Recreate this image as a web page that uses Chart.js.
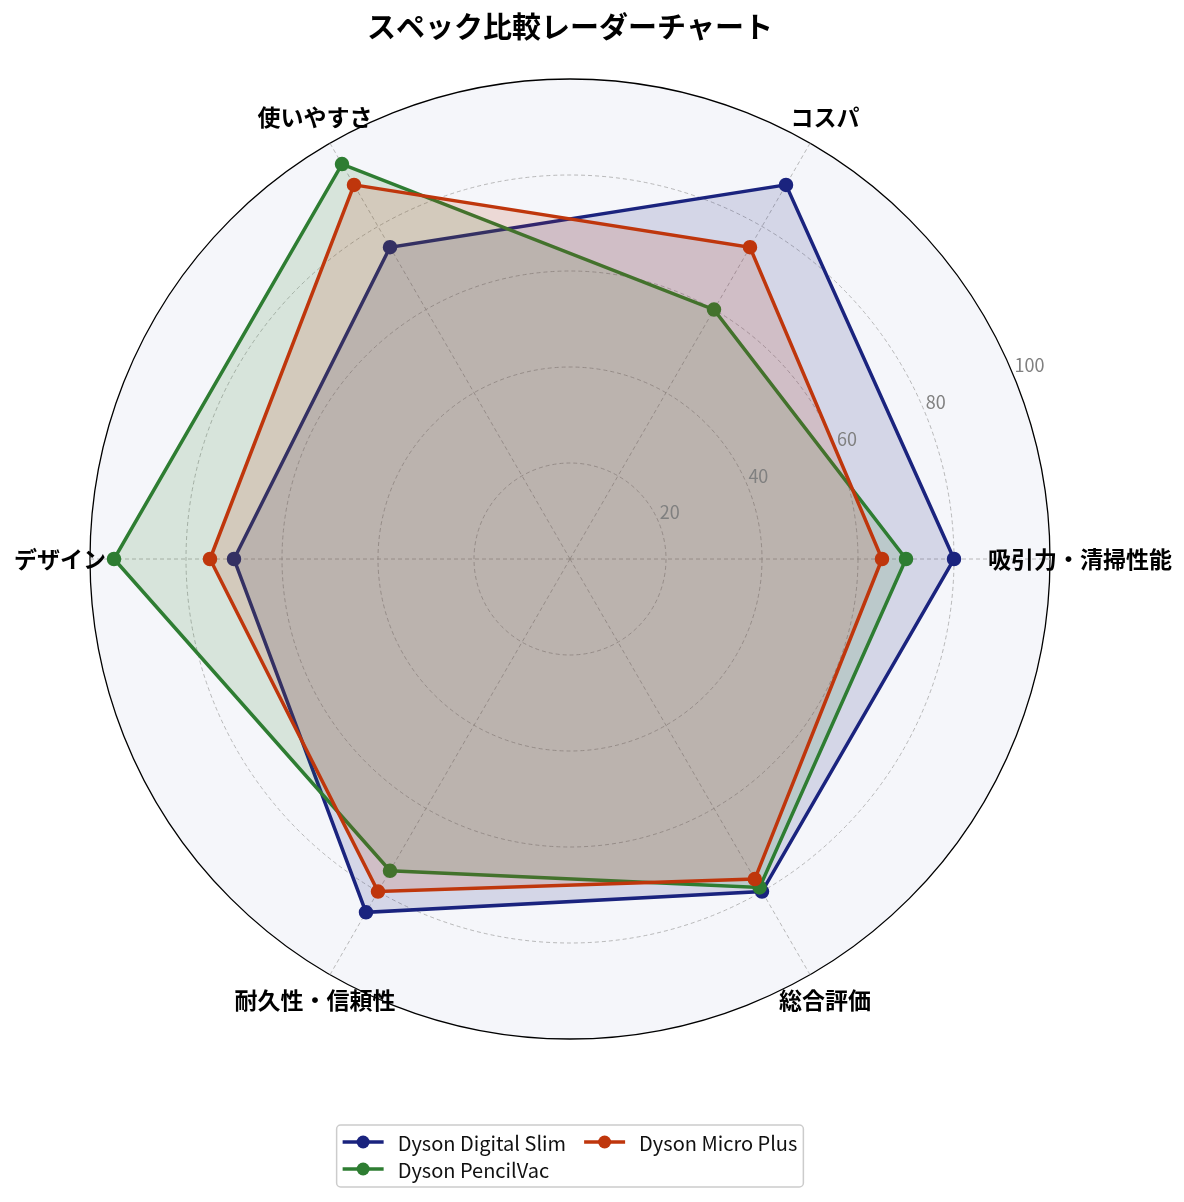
<!DOCTYPE html>
<html lang="ja">
<head>
<meta charset="utf-8">
<title>スペック比較レーダーチャート</title>
<script src="https://cdn.jsdelivr.net/npm/chart.js@4.4.1/dist/chart.umd.min.js"></script>
<style>
  html, body { margin: 0; padding: 0; background: #fff; }
  #wrap { position: relative; width: 1184px; height: 1202px; }
</style>
</head>
<body>
<div id="wrap"><canvas id="radar"></canvas></div>
<script>
// categories, counter-clockwise from the right (as in the picture)
var categories = ["吸引力・清掃性能", "コスパ", "使いやすさ", "デザイン", "耐久性・信頼性", "総合評価"];
var digitalSlim = [80, 90, 75, 70, 85, 80];
var pencilVac   = [70, 60, 95, 95, 75, 79];
var microPlus   = [65, 75, 90, 75, 80, 77];
var seriesNames = ["Dyson Digital Slim", "Dyson PencilVac", "Dyson Micro Plus"];
var tickValues  = [0, 20, 40, 60, 80, 100];
var chartTitle  = "スペック比較レーダーチャート";

// chart.js goes clockwise, so walk the categories the other way round
var order = [0, 5, 4, 3, 2, 1];
function reorder(arr) { return order.map(function (i) { return arr[i]; }); }

var FONT = "'Noto Sans CJK JP', 'Noto Sans', sans-serif";
var colors = ["#1a237e", "#2e7d32", "#bf360c"];
var fills  = ["rgba(26,35,126,0.15)", "rgba(46,125,50,0.15)", "rgba(191,54,12,0.15)"];
var allData = [digitalSlim, pencilVac, microPlus];

Chart.defaults.font.family = FONT;

// title, point labels, r tick labels and legend, drawn after everything else
var decorations = {
  id: "decorations",
  afterDraw: function (chart) {
    var ctx = chart.ctx;
    var r = chart.scales.r;
    ctx.save();

    // title
    ctx.fillStyle = "#000";
    ctx.font = "bold 29px " + FONT;
    ctx.textAlign = "center";
    ctx.textBaseline = "middle";
    ctx.fillText(chartTitle, r.xCenter, 27);

    // category labels, centred just outside the outer circle
    ctx.font = "bold 23px " + FONT;
    chart.data.labels.forEach(function (lab, i) {
      var p = r.getPointPosition(i, r.drawingArea + 30);
      ctx.fillText(lab, p.x, p.y);
    });

    // radial tick labels at 22.5 degrees
    var a = 22.5 * Math.PI / 180;
    ctx.font = "18px " + FONT;
    ctx.fillStyle = "#808080";
    ctx.textAlign = "left";
    ctx.textBaseline = "alphabetic";
    r.ticks.forEach(function (t) {
      if (t.value === 0) return;
      var d = r.getDistanceFromCenterForValue(t.value);
      ctx.fillText(String(t.value), r.xCenter + Math.cos(a) * d + 1, r.yCenter - Math.sin(a) * d - 3);
    });

    // legend box, two columns filled column-wise
    ctx.font = "20px " + FONT;
    var w1 = Math.max(ctx.measureText(seriesNames[0]).width, ctx.measureText(seriesNames[1]).width);
    var w2 = ctx.measureText(seriesNames[2]).width;
    var handle = 41, gapText = 14, gapCol = 18, pad = 6;
    var boxW = pad + handle + gapText + w1 + gapCol + handle + gapText + w2 + pad;
    var boxX = r.xCenter - boxW / 2, boxY = 1125, boxH = 62;
    ctx.beginPath();
    ctx.roundRect(boxX, boxY, boxW, boxH, 4);
    ctx.fillStyle = "rgba(255,255,255,0.8)";
    ctx.fill();
    ctx.strokeStyle = "#cccccc";
    ctx.lineWidth = 1.5;
    ctx.stroke();

    var col2 = boxX + pad + handle + gapText + w1 + gapCol;
    var slots = [
      { x: boxX + pad, y: 1142 },
      { x: boxX + pad, y: 1169 },
      { x: col2, y: 1142 }
    ];
    ctx.textBaseline = "middle";
    slots.forEach(function (s, i) {
      ctx.strokeStyle = colors[i];
      ctx.lineWidth = 3.5;
      ctx.beginPath();
      ctx.moveTo(s.x, s.y);
      ctx.lineTo(s.x + handle, s.y);
      ctx.stroke();
      ctx.beginPath();
      ctx.arc(s.x + handle / 2, s.y, 6.5, 0, Math.PI * 2);
      ctx.fillStyle = colors[i];
      ctx.fill();
      ctx.fillStyle = "#111";
      ctx.fillText(seriesNames[i], s.x + handle + gapText, s.y + 1);
    });

    ctx.restore();
  }
};

var datasets = allData.map(function (vals, i) {
  return {
    label: seriesNames[i],
    data: reorder(vals),
    borderColor: colors[i],
    backgroundColor: fills[i],
    pointBackgroundColor: colors[i],
    pointBorderColor: colors[i],
    borderWidth: 3.5,
    pointRadius: 6.5,
    pointBorderWidth: 1.5,
    fill: true,
    order: 2 - i   // later series on top, like the picture
  };
});

new Chart(document.getElementById("radar"), {
  type: "radar",
  data: { labels: reorder(categories), datasets: datasets },
  options: {
    responsive: true,
    maintainAspectRatio: false,
    animation: false,
    layout: { padding: { left: 90, right: 134, top: 79, bottom: 163 } },
    elements: { line: { tension: 0 } },
    plugins: {
      legend: { display: false },
      title: { display: false },
      tooltip: { enabled: false }
    },
    scales: {
      r: {
        min: tickValues[0],
        max: tickValues[tickValues.length - 1],
        startAngle: 90,
        backgroundColor: "#f5f6fa",
        ticks: { display: false, stepSize: 20 },
        pointLabels: { display: false },
        grid: {
          circular: true,
          color: function (c) { return c.tick && c.tick.value === 100 ? "#000" : "#a8a8a8"; },
          lineWidth: function (c) { return c.tick && c.tick.value === 100 ? 1.3 : 0.8; }
        },
        border: {
          dash: function (c) { return c.tick && c.tick.value === 100 ? [] : [4, 3]; }
        },
        angleLines: { color: "#a8a8a8", lineWidth: 0.8, borderDash: [4, 3] }
      }
    }
  },
  plugins: [decorations]
});
</script>
</body>
</html>
